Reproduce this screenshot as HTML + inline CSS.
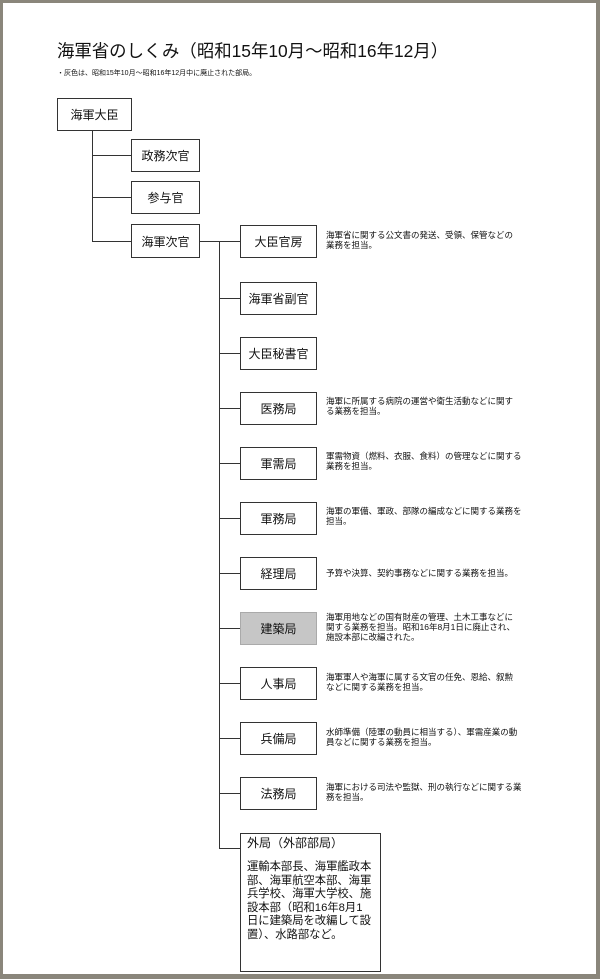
<!DOCTYPE html>
<html><head><meta charset="utf-8"><style>
html,body{margin:0;padding:0}
body{width:600px;height:979px;position:relative;overflow:hidden;background:#8a867b;font-family:"Liberation Sans","Noto Sans CJK JP",sans-serif;color:#111}
.page{position:absolute;left:3px;top:3px;width:593px;height:971px;background:#fff}
.b{position:absolute;box-sizing:border-box;border:1px solid #333;background:#fff;display:flex;align-items:center;justify-content:center;font-size:12px}
.h{position:absolute;height:1px;background:#333}
.v{position:absolute;width:1px;background:#333}
.d{position:absolute;left:326px;font-size:8.5px;line-height:10px;white-space:nowrap}
</style></head><body>
<div class="page"></div>
<div style="position:absolute;left:57px;top:38px;font-size:17.4px;white-space:nowrap">海軍省のしくみ（昭和15年10月～昭和16年12月）</div>
<div style="position:absolute;left:57px;top:68px;font-size:7px;white-space:nowrap">・灰色は、昭和15年10月～昭和16年12月中に廃止された部局。</div>

<div class="v" style="left:92px;top:130px;height:112px"></div>
<div class="h" style="left:92px;top:155px;width:40px"></div>
<div class="h" style="left:92px;top:197px;width:40px"></div>
<div class="h" style="left:92px;top:241px;width:40px"></div>
<div class="h" style="left:199px;top:241px;width:42px"></div>
<div class="v" style="left:219px;top:241px;height:608px"></div>

<div class="b" style="left:57px;top:98px;width:75px;height:33px">海軍大臣</div>
<div class="b" style="left:131px;top:139px;width:69px;height:33px">政務次官</div>
<div class="b" style="left:131px;top:181px;width:69px;height:33px">参与官</div>
<div class="b" style="left:131px;top:224px;width:69px;height:34px">海軍次官</div>

<div class="b" style="left:240px;top:225px;width:77px;height:33px">大臣官房</div>
<div class="d" style="top:230px">海軍省に関する公文書の発送、受領、保管などの<br>業務を担当。</div>

<div class="h" style="left:219px;top:298px;width:22px"></div>
<div class="b" style="left:240px;top:282px;width:77px;height:33px">海軍省副官</div>
<div class="h" style="left:219px;top:353px;width:22px"></div>
<div class="b" style="left:240px;top:337px;width:77px;height:33px">大臣秘書官</div>

<div class="h" style="left:219px;top:408px;width:22px"></div>
<div class="b" style="left:240px;top:392px;width:77px;height:33px">医務局</div>
<div class="d" style="top:396px">海軍に所属する病院の運営や衛生活動などに関す<br>る業務を担当。</div>

<div class="h" style="left:219px;top:463px;width:22px"></div>
<div class="b" style="left:240px;top:447px;width:77px;height:33px">軍需局</div>
<div class="d" style="top:451px">軍需物資（燃料、衣服、食料）の管理などに関する<br>業務を担当。</div>

<div class="h" style="left:219px;top:518px;width:22px"></div>
<div class="b" style="left:240px;top:502px;width:77px;height:33px">軍務局</div>
<div class="d" style="top:506px">海軍の軍備、軍政、部隊の編成などに関する業務を<br>担当。</div>

<div class="h" style="left:219px;top:573px;width:22px"></div>
<div class="b" style="left:240px;top:557px;width:77px;height:33px">経理局</div>
<div class="d" style="top:568px">予算や決算、契約事務などに関する業務を担当。</div>

<div class="h" style="left:219px;top:628px;width:22px"></div>
<div class="b" style="left:240px;top:612px;width:77px;height:33px;background:#c6c6c6;border-color:#aaa">建築局</div>
<div class="d" style="top:612px">海軍用地などの国有財産の管理、土木工事などに<br>関する業務を担当。昭和16年8月1日に廃止され、<br>施設本部に改編された。</div>

<div class="h" style="left:219px;top:683px;width:22px"></div>
<div class="b" style="left:240px;top:667px;width:77px;height:33px">人事局</div>
<div class="d" style="top:672px">海軍軍人や海軍に属する文官の任免、恩給、叙勲<br>などに関する業務を担当。</div>

<div class="h" style="left:219px;top:738px;width:22px"></div>
<div class="b" style="left:240px;top:722px;width:77px;height:33px">兵備局</div>
<div class="d" style="top:727px">水師準備（陸軍の動員に相当する）、軍需産業の動<br>員などに関する業務を担当。</div>

<div class="h" style="left:219px;top:793px;width:22px"></div>
<div class="b" style="left:240px;top:777px;width:77px;height:33px">法務局</div>
<div class="d" style="top:782px">海軍における司法や監獄、刑の執行などに関する業<br>務を担当。</div>

<div class="h" style="left:219px;top:848px;width:22px"></div>
<div class="b" style="left:240px;top:833px;width:141px;height:139px;display:block;padding:2px 6px;font-size:12px;line-height:14px;white-space:nowrap">外局（外部部局）<div style="margin-top:11px;font-size:11.3px;line-height:13.6px">運輸本部長、海軍艦政本<br>部、海軍航空本部、海軍<br>兵学校、海軍大学校、施<br>設本部（昭和16年8月1<br>日に建築局を改編して設<br>置）、水路部など。</div></div>
</body></html>
